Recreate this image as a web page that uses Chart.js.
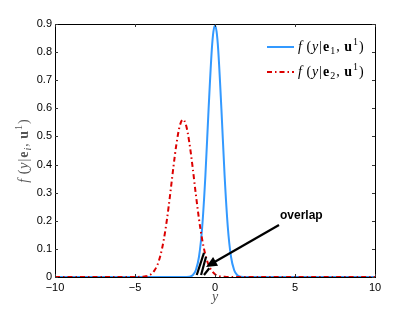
<!DOCTYPE html>
<html>
<head>
<meta charset="utf-8">
<script src="https://cdn.jsdelivr.net/npm/chart.js@4.4.0/dist/chart.umd.min.js"></script>
<style>html,body{margin:0;padding:0;background:#fff}</style>
</head>
<body>
<canvas id="myChart" width="415" height="313"></canvas>
<script>
// values
var blueX = [-10, -2, -1.6, -1.4, -1.2, -1.0, -0.8, -0.6, -0.4, -0.2, -0.1, 0, 0.1, 0.2, 0.4, 0.6, 0.8, 1.0, 1.2, 1.4, 1.6, 2, 10];
var blueY = [0, 0, 0.001, 0.006, 0.024, 0.072, 0.178, 0.361, 0.598, 0.809, 0.873, 0.895, 0.873, 0.809, 0.598, 0.361, 0.178, 0.072, 0.024, 0.006, 0.001, 0, 0];

var redX = [-10, -5, -4.6, -4.4, -4.2, -4.0, -3.8, -3.6, -3.4, -3.2, -3.0, -2.8, -2.6, -2.4, -2.2, -2.0, -1.8, -1.6, -1.4, -1.2, -1.0, -0.8, -0.6, -0.4, -0.2, 0, 0.2, 0.6, 1, 10];
var redY = [0, 0, 0.001, 0.002, 0.004, 0.010, 0.022, 0.043, 0.079, 0.133, 0.206, 0.295, 0.391, 0.477, 0.538, 0.560, 0.538, 0.477, 0.391, 0.295, 0.206, 0.133, 0.079, 0.043, 0.022, 0.010, 0.004, 0.001, 0, 0];

// black hatch strokes of the overlap region (start x, end x, start y, end y)
var hatchX0 = [-1.14, -0.87, -0.69];
var hatchX1 = [-0.69, -0.56, -0.36];
var hatchY0 = [0.007, 0.007, 0.007];
var hatchY1 = [0.086, 0.072, 0.031];

var xTicks = [-10, -5, 0, 5, 10];
var yTicks = [0, 0.1, 0.2, 0.3, 0.4, 0.5, 0.6, 0.7, 0.8, 0.9];

// arrow: tail, tip (data units) and label
var arrowFrom = [4.0, 0.185];
var arrowTo = [-0.56, 0.036];
var arrowText = 'overlap';

function pts(xs, ys) {
    var out = [];
    for (var i = 0; i < xs.length; i++) out.push({x: xs[i], y: ys[i]});
    return out;
}

var datasets = [];
for (var h = 0; h < hatchX0.length; h++) {
    datasets.push({
        data: [{x: hatchX0[h], y: hatchY0[h]}, {x: hatchX1[h], y: hatchY1[h]}],
        showLine: true, borderColor: '#000', borderWidth: 2.2, pointRadius: 0, order: 0
    });
}
datasets.push({
    data: pts(redX, redY), showLine: true, borderColor: 'rgb(220,0,0)', borderWidth: 2,
    borderDash: [5, 3, 1.5, 3], pointRadius: 0, cubicInterpolationMode: 'monotone', order: 1
});
datasets.push({
    data: pts(blueX, blueY), showLine: true, borderColor: 'rgb(51,153,255)', borderWidth: 2,
    pointRadius: 0, cubicInterpolationMode: 'monotone', order: 2
});

var SERIF = '"Liberation Serif"';
function segFont(s, size) {
    var sz = (s.sub || s.sup) ? Math.round(size * 0.72) : size;
    var st = s.b ? 'bold ' : (s.i ? 'italic ' : '');
    return st + sz + 'px ' + SERIF;
}
// small extra gap after each piece, CM-style math is wider than Times
var GAP = 1;
function drawRich(ctx, segs, x, y, size, align) {
    var w = 0;
    segs.forEach(function(s){ ctx.font = segFont(s, size); w += ctx.measureText(s.t).width + GAP; });
    var cx = align === 'center' ? x - w / 2 : x;
    ctx.textBaseline = 'middle';
    ctx.textAlign = 'left';
    segs.forEach(function(s){
        ctx.font = segFont(s, size);
        var dy = s.sub ? size * 0.3 : (s.sup ? -size * 0.35 : 0);
        ctx.fillText(s.t, cx, y + dy);
        cx += ctx.measureText(s.t).width + GAP;
    });
}
function label(idx) {
    return [{t:'f ', i:1}, {t:'('}, {t:'y', i:1}, {t:'|'}, {t:'e', b:1}, {t:idx, sub:1, i:idx==='i'},
            {t:', '}, {t:'u', b:1}, {t:'1', sup:1}, {t:')'}];
}

var decor = {
    id: 'decor',
    afterDatasetsDraw: function(chart) {
        var ctx = chart.ctx, a = chart.chartArea;
        var xs = chart.scales.x, ys = chart.scales.y;
        ctx.save();
        // box
        ctx.strokeStyle = '#000';
        ctx.lineWidth = 1;
        ctx.strokeRect(a.left + 0.5, a.top + 0.5, a.right - a.left, a.bottom - a.top);
        // inward ticks on all sides
        ctx.strokeStyle = '#333';
        ctx.beginPath();
        xTicks.forEach(function(v){
            var px = Math.round(xs.getPixelForValue(v)) + 0.5;
            ctx.moveTo(px, a.bottom); ctx.lineTo(px, a.bottom - 3);
            ctx.moveTo(px, a.top); ctx.lineTo(px, a.top + 3);
        });
        yTicks.forEach(function(v){
            var py = Math.round(ys.getPixelForValue(v)) + 0.5;
            ctx.moveTo(a.left, py); ctx.lineTo(a.left + 3, py);
            ctx.moveTo(a.right, py); ctx.lineTo(a.right - 3, py);
        });
        ctx.stroke();

        // arrow
        var x0 = xs.getPixelForValue(arrowFrom[0]), y0 = ys.getPixelForValue(arrowFrom[1]);
        var x1 = xs.getPixelForValue(arrowTo[0]), y1 = ys.getPixelForValue(arrowTo[1]);
        var ang = Math.atan2(y1 - y0, x1 - x0);
        var hl = 11, hw = 5;
        ctx.strokeStyle = '#000';
        ctx.fillStyle = '#000';
        ctx.lineWidth = 2.2;
        ctx.beginPath();
        ctx.moveTo(x0, y0);
        ctx.lineTo(x1 - Math.cos(ang) * hl * 0.8, y1 - Math.sin(ang) * hl * 0.8);
        ctx.stroke();
        ctx.beginPath();
        ctx.moveTo(x1, y1);
        ctx.lineTo(x1 - Math.cos(ang) * hl - Math.sin(ang) * hw, y1 - Math.sin(ang) * hl + Math.cos(ang) * hw);
        ctx.lineTo(x1 - Math.cos(ang) * hl + Math.sin(ang) * hw, y1 - Math.sin(ang) * hl - Math.cos(ang) * hw);
        ctx.closePath();
        ctx.fill();
        ctx.font = 'bold 12px "Liberation Sans"';
        ctx.textAlign = 'left';
        ctx.textBaseline = 'middle';
        ctx.fillText(arrowText, x0 + 1, y0 - 9);

        // legend
        var lx = a.right - 108;
        var items = [datasets[hatchX0.length + 1], datasets[hatchX0.length]];
        var names = ['1', '2'];
        for (var k = 0; k < 2; k++) {
            var ly = a.top + 23 + k * 25;
            var d = items[k];
            ctx.strokeStyle = d.borderColor;
            ctx.lineWidth = 2;
            ctx.setLineDash(d.borderDash || []);
            ctx.beginPath();
            ctx.moveTo(lx, ly); ctx.lineTo(lx + 27, ly);
            ctx.stroke();
            ctx.setLineDash([]);
            ctx.fillStyle = '#000';
            drawRich(ctx, label(names[k]), lx + 31, ly, 14, 'left');
        }

        // axis titles
        ctx.fillStyle = '#555';
        ctx.save();
        ctx.translate(24, (a.top + a.bottom) / 2);
        ctx.rotate(-Math.PI / 2);
        drawRich(ctx, label('i'), 0, 0, 14, 'center');
        ctx.restore();
        ctx.font = 'italic 14px ' + SERIF;
        ctx.textAlign = 'center';
        ctx.textBaseline = 'middle';
        ctx.fillText('y', (a.left + a.right) / 2, 297);
        ctx.restore();
    }
};

var ctx = document.getElementById('myChart').getContext('2d');
var chart = new Chart(ctx, {
    type: 'scatter',
    data: {datasets: datasets},
    options: {
        responsive: false,
        animation: false,
        layout: {padding: {left: 0, right: 40, top: 24, bottom: 0}},
        plugins: {legend: {display: false}, tooltip: {enabled: false}},
        scales: {
            x: {
                type: 'linear', min: -10, max: 10,
                afterFit: function(s){ s.height = 36; },
                afterBuildTicks: function(s){ s.ticks = xTicks.map(function(v){ return {value: v}; }); },
                grid: {display: false, drawTicks: false},
                border: {display: false},
                ticks: {
                    padding: 4, color: '#000', maxRotation: 0,
                    font: {family: '"Liberation Sans"', size: 11},
                    callback: function(v){ return v < 0 ? '\u2212' + Math.abs(v) : String(v); }
                }
            },
            y: {
                type: 'linear', min: 0, max: 0.9,
                afterFit: function(s){ s.width = 55; },
                afterBuildTicks: function(s){ s.ticks = yTicks.map(function(v){ return {value: v}; }); },
                grid: {display: false, drawTicks: false},
                border: {display: false},
                ticks: {
                    padding: 3, color: '#000',
                    font: {family: '"Liberation Sans"', size: 11},
                    callback: function(v){ return v === 0 ? '0' : v.toFixed(1); }
                }
            }
        }
    },
    plugins: [decor]
});
</script>
</body>
</html>
